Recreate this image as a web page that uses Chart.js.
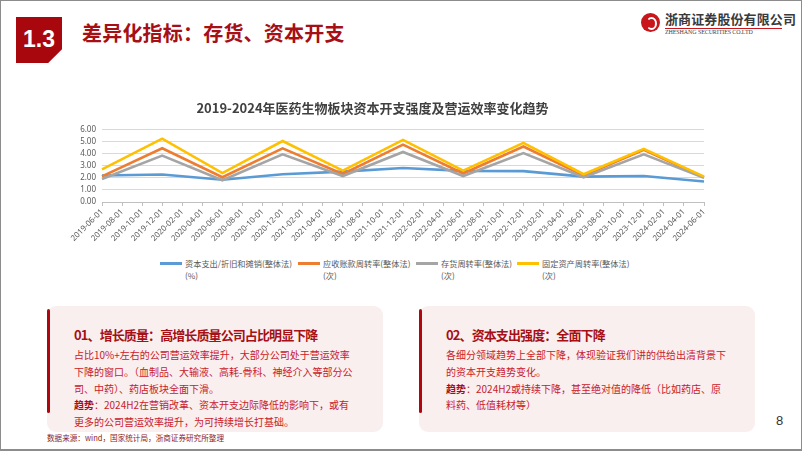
<!DOCTYPE html>
<html>
<head>
<meta charset="utf-8">
<script src="https://cdn.jsdelivr.net/npm/chart.js@4"></script>
<style>
  * { box-sizing: border-box; }
  body { margin: 0; width: 802px; height: 451px; overflow: hidden; background: #fff;
         font-family: "Noto Sans CJK SC", "Noto Sans", sans-serif; }
  #slide { position: relative; width: 802px; height: 451px; border: 1px solid #8c8c8c; border-bottom-width: 2px; }
  .abs { position: absolute; }
  #badge { left: 15px; top: 16px; width: 46px; height: 46px; background: #A8070E;
           clip-path: polygon(0 0, 100% 0, 100% 70%, 70% 100%, 0 100%);
           color: #fff; font: bold 23px "Liberation Sans", Arial, sans-serif;
           display: flex; align-items: center; justify-content: center; padding-bottom: 2px; }
  #heading { left: 81px; top: 17px; font-size: 20px; font-weight: bold; color: #A50F15; white-space: nowrap; letter-spacing: 0.2px; }
  #logoMark { left: 640px; top: 12px; width: 19px; height: 19px; border-radius: 50%; background: #C8161D; }
  #logoMark::after { content: ""; position: absolute; left: 5px; top: 4px; width: 7px; height: 9px;
                     border: 2px solid #fff; border-left-color: transparent; border-radius: 50%; }
  #logoName { left: 664px; top: 8px; font-size: 13px; font-weight: bold; color: #3a3a3a; letter-spacing: 0.1px; white-space: nowrap; }
  #logoLine { left: 664px; top: 27px; width: 117px; height: 1px; background: #C8161D; }
  #logoEn { left: 664px; top: 28px; font: 6px "Liberation Serif", serif; color: #444; white-space: nowrap; letter-spacing: -0.1px; }
  #chartBox { left: 40px; top: 88px; }
  .item { position: absolute; top: 256px; display: flex; align-items: flex-start; font-size: 8.2px; color: #595959; line-height: 12px; white-space: nowrap; }
  .swatch { width: 22px; height: 3px; margin-top: 5px; margin-right: 3px; }
  .card { top: 305px; width: 336px; height: 126px; background: #F9EFEF; border-radius: 9px; }
  .card .bar { position: absolute; left: 0; top: 3px; width: 3px; height: 104px; background: #B0070F; border-radius: 2px; }
  .card h3 { position: absolute; left: 27px; top: 19px; margin: 0; font-size: 13px; color: #A50F15; white-space: nowrap; letter-spacing: -0.9px; }
  .card p { position: absolute; left: 27px; top: 41px; margin: 0; font-size: 10px; line-height: 16.8px; color: #C9202A; white-space: nowrap; letter-spacing: 0px; }
  .card b { color: #A50F15; }
  #source { left: 46px; top: 431px; font-size: 7.6px; color: #8E1B1B; white-space: nowrap; }
  #page { left: 775px; top: 412px; font: 13px "Liberation Sans", Arial, sans-serif; color: #333; }
</style>
</head>
<body>
<div id="slide">
  <div id="badge" class="abs">1.3</div>
  <div id="heading" class="abs">差异化指标：存货、资本开支</div>
  <div id="logoMark" class="abs"></div>
  <div id="logoName" class="abs">浙商证券股份有限公司</div>
  <div id="logoLine" class="abs"></div>
  <div id="logoEn" class="abs">ZHESHANG SECURITIES CO.LTD</div>

  <div id="chartBox" class="abs"><canvas id="trend-chart" width="680" height="163"></canvas></div>

  <div class="card abs" style="left:46px">
    <div class="bar"></div>
    <h3>01、增长质量：高增长质量公司占比明显下降</h3>
    <p>占比10%+左右的公司营运效率提升，大部分公司处于营运效率<br>下降的窗口。（血制品、大输液、高耗-骨科、神经介入等部分公<br>司、中药）、药店板块全面下滑。<br><b>趋势</b>：2024H2在营销改革、资本开支边际降低的影响下，或有<br>更多的公司营运效率提升，为可持续增长打基础。</p>
  </div>
  <div class="card abs" style="left:418px">
    <div class="bar"></div>
    <h3>02、资本支出强度：全面下降</h3>
    <p>各细分领域趋势上全部下降，体现验证我们讲的供给出清背景下<br>的资本开支趋势变化。<br><b>趋势</b>：2024H2或持续下降，甚至绝对值的降低（比如药店、原<br>料药、低值耗材等）</p>
  </div>
  <div id="source" class="abs">数据来源：wind，国家统计局，浙商证券研究所整理</div>
  <div id="page" class="abs">8</div>
</div>

<script>
// x axis categories (every two months)
const categories = [
    '2019-06-01', '2019-08-01', '2019-10-01', '2019-12-01', '2020-02-01', '2020-04-01',
    '2020-06-01', '2020-08-01', '2020-10-01', '2020-12-01', '2021-02-01', '2021-04-01',
    '2021-06-01', '2021-08-01', '2021-10-01', '2021-12-01', '2022-02-01', '2022-04-01',
    '2022-06-01', '2022-08-01', '2022-10-01', '2022-12-01', '2023-02-01', '2023-04-01',
    '2023-06-01', '2023-08-01', '2023-10-01', '2023-12-01', '2024-02-01', '2024-04-01',
    '2024-06-01'
];

// half-year reporting dates that carry values
const reportDates = [
    '2019-06-01', '2019-12-01', '2020-06-01', '2020-12-01', '2021-06-01', '2021-12-01',
    '2022-06-01', '2022-12-01', '2023-06-01', '2023-12-01', '2024-06-01'
];

const capexToDA       = [2.20, 2.28, 1.85, 2.30, 2.52, 2.82, 2.58, 2.56, 2.10, 2.15, 1.70];
const receivablesTurn = [2.12, 4.45, 2.05, 4.45, 2.32, 4.75, 2.36, 4.60, 2.20, 4.32, 2.05];
const inventoryTurn   = [1.90, 3.85, 1.80, 3.95, 2.15, 4.15, 2.15, 4.05, 2.05, 3.95, 2.00];
const fixedAssetTurn  = [2.70, 5.25, 2.40, 5.05, 2.60, 5.15, 2.60, 4.90, 2.30, 4.40, 2.10];

const yTicks = [0, 1, 2, 3, 4, 5, 6];

const seriesNames = [
    ['资本支出/折旧和摊销(整体法)', '(%)'],
    ['应收账款周转率(整体法)', '(次)'],
    ['存货周转率(整体法)', '(次)'],
    ['固定资产周转率(整体法)', '(次)']
];
const seriesColors = ['#5B9BD5', '#ED7D31', '#A5A5A5', '#FFC000'];
const seriesValues = [capexToDA, receivablesTurn, inventoryTurn, fixedAssetTurn];

// where each legend entry starts on the slide
const legendLeft = [159, 297, 415, 516];

function toPoints(values) {
    return values.map((v, i) => ({ x: reportDates[i], y: v }));
}

function buildDatasets() {
    return seriesValues.map((values, i) => ({
        label: seriesNames[i].join(''),
        data: toPoints(values),
        borderColor: seriesColors[i],
        backgroundColor: seriesColors[i],
        borderWidth: 2.6,
        pointRadius: 0,
        tension: 0,
        order: seriesValues.length - 1 - i   // later series drawn on top, like Excel
    }));
}

function buildLegend() {
    // legend entries wrap onto two lines, so it's done in html
    const slide = document.getElementById('slide');
    seriesNames.forEach((name, i) => {
        const item = document.createElement('div');
        item.className = 'item';
        item.style.left = legendLeft[i] + 'px';
        item.innerHTML = `<div class="swatch" style="background:${seriesColors[i]}"></div>` +
            `<div>${name[0]}<br>${name[1]}</div>`;
        slide.appendChild(item);
    });
}

const ctx = document.getElementById('trend-chart').getContext('2d');
new Chart(ctx, {
    type: 'line',
    data: {
        labels: categories,
        datasets: buildDatasets()
    },
    options: {
        responsive: false,
        animation: false,
        devicePixelRatio: 1,
        layout: { padding: { top: 0, right: 17, bottom: 0, left: 0 } },
        plugins: {
            legend: { display: false },
            tooltip: { enabled: false },
            title: {
                display: true,
                text: '2019-2024年医药生物板块资本开支强度及营运效率变化趋势',
                color: '#404040',
                font: { family: '"Noto Sans CJK SC", sans-serif', size: 13, weight: 'bold' },
                padding: { top: 11, bottom: 14 }
            }
        },
        scales: {
            x: {
                type: 'category',
                offset: false,
                border: { color: '#BFBFBF', width: 1 },
                grid: { drawOnChartArea: false, drawTicks: true, tickLength: 4, color: '#BFBFBF' },
                ticks: {
                    autoSkip: false,
                    minRotation: 45,
                    maxRotation: 45,
                    padding: 1,
                    color: '#595959',
                    font: { family: '"Noto Sans", sans-serif', size: 8 }
                },
                afterFit: function(scale) { scale.height = 50; }
            },
            y: {
                min: 0,
                max: 6,
                afterBuildTicks: function(scale) { scale.ticks = yTicks.map(v => ({ value: v })); },
                border: { display: false },
                grid: { color: '#D9D9D9', drawTicks: false },
                ticks: {
                    autoSkip: false,
                    padding: 6,
                    color: '#595959',
                    font: { family: '"Noto Sans", sans-serif', size: 8 },
                    callback: function(value) { return Number(value).toFixed(2); }
                },
                afterFit: function(scale) { scale.width = 61; }
            }
        }
    }
});

buildLegend();
</script>
</body>
</html>
